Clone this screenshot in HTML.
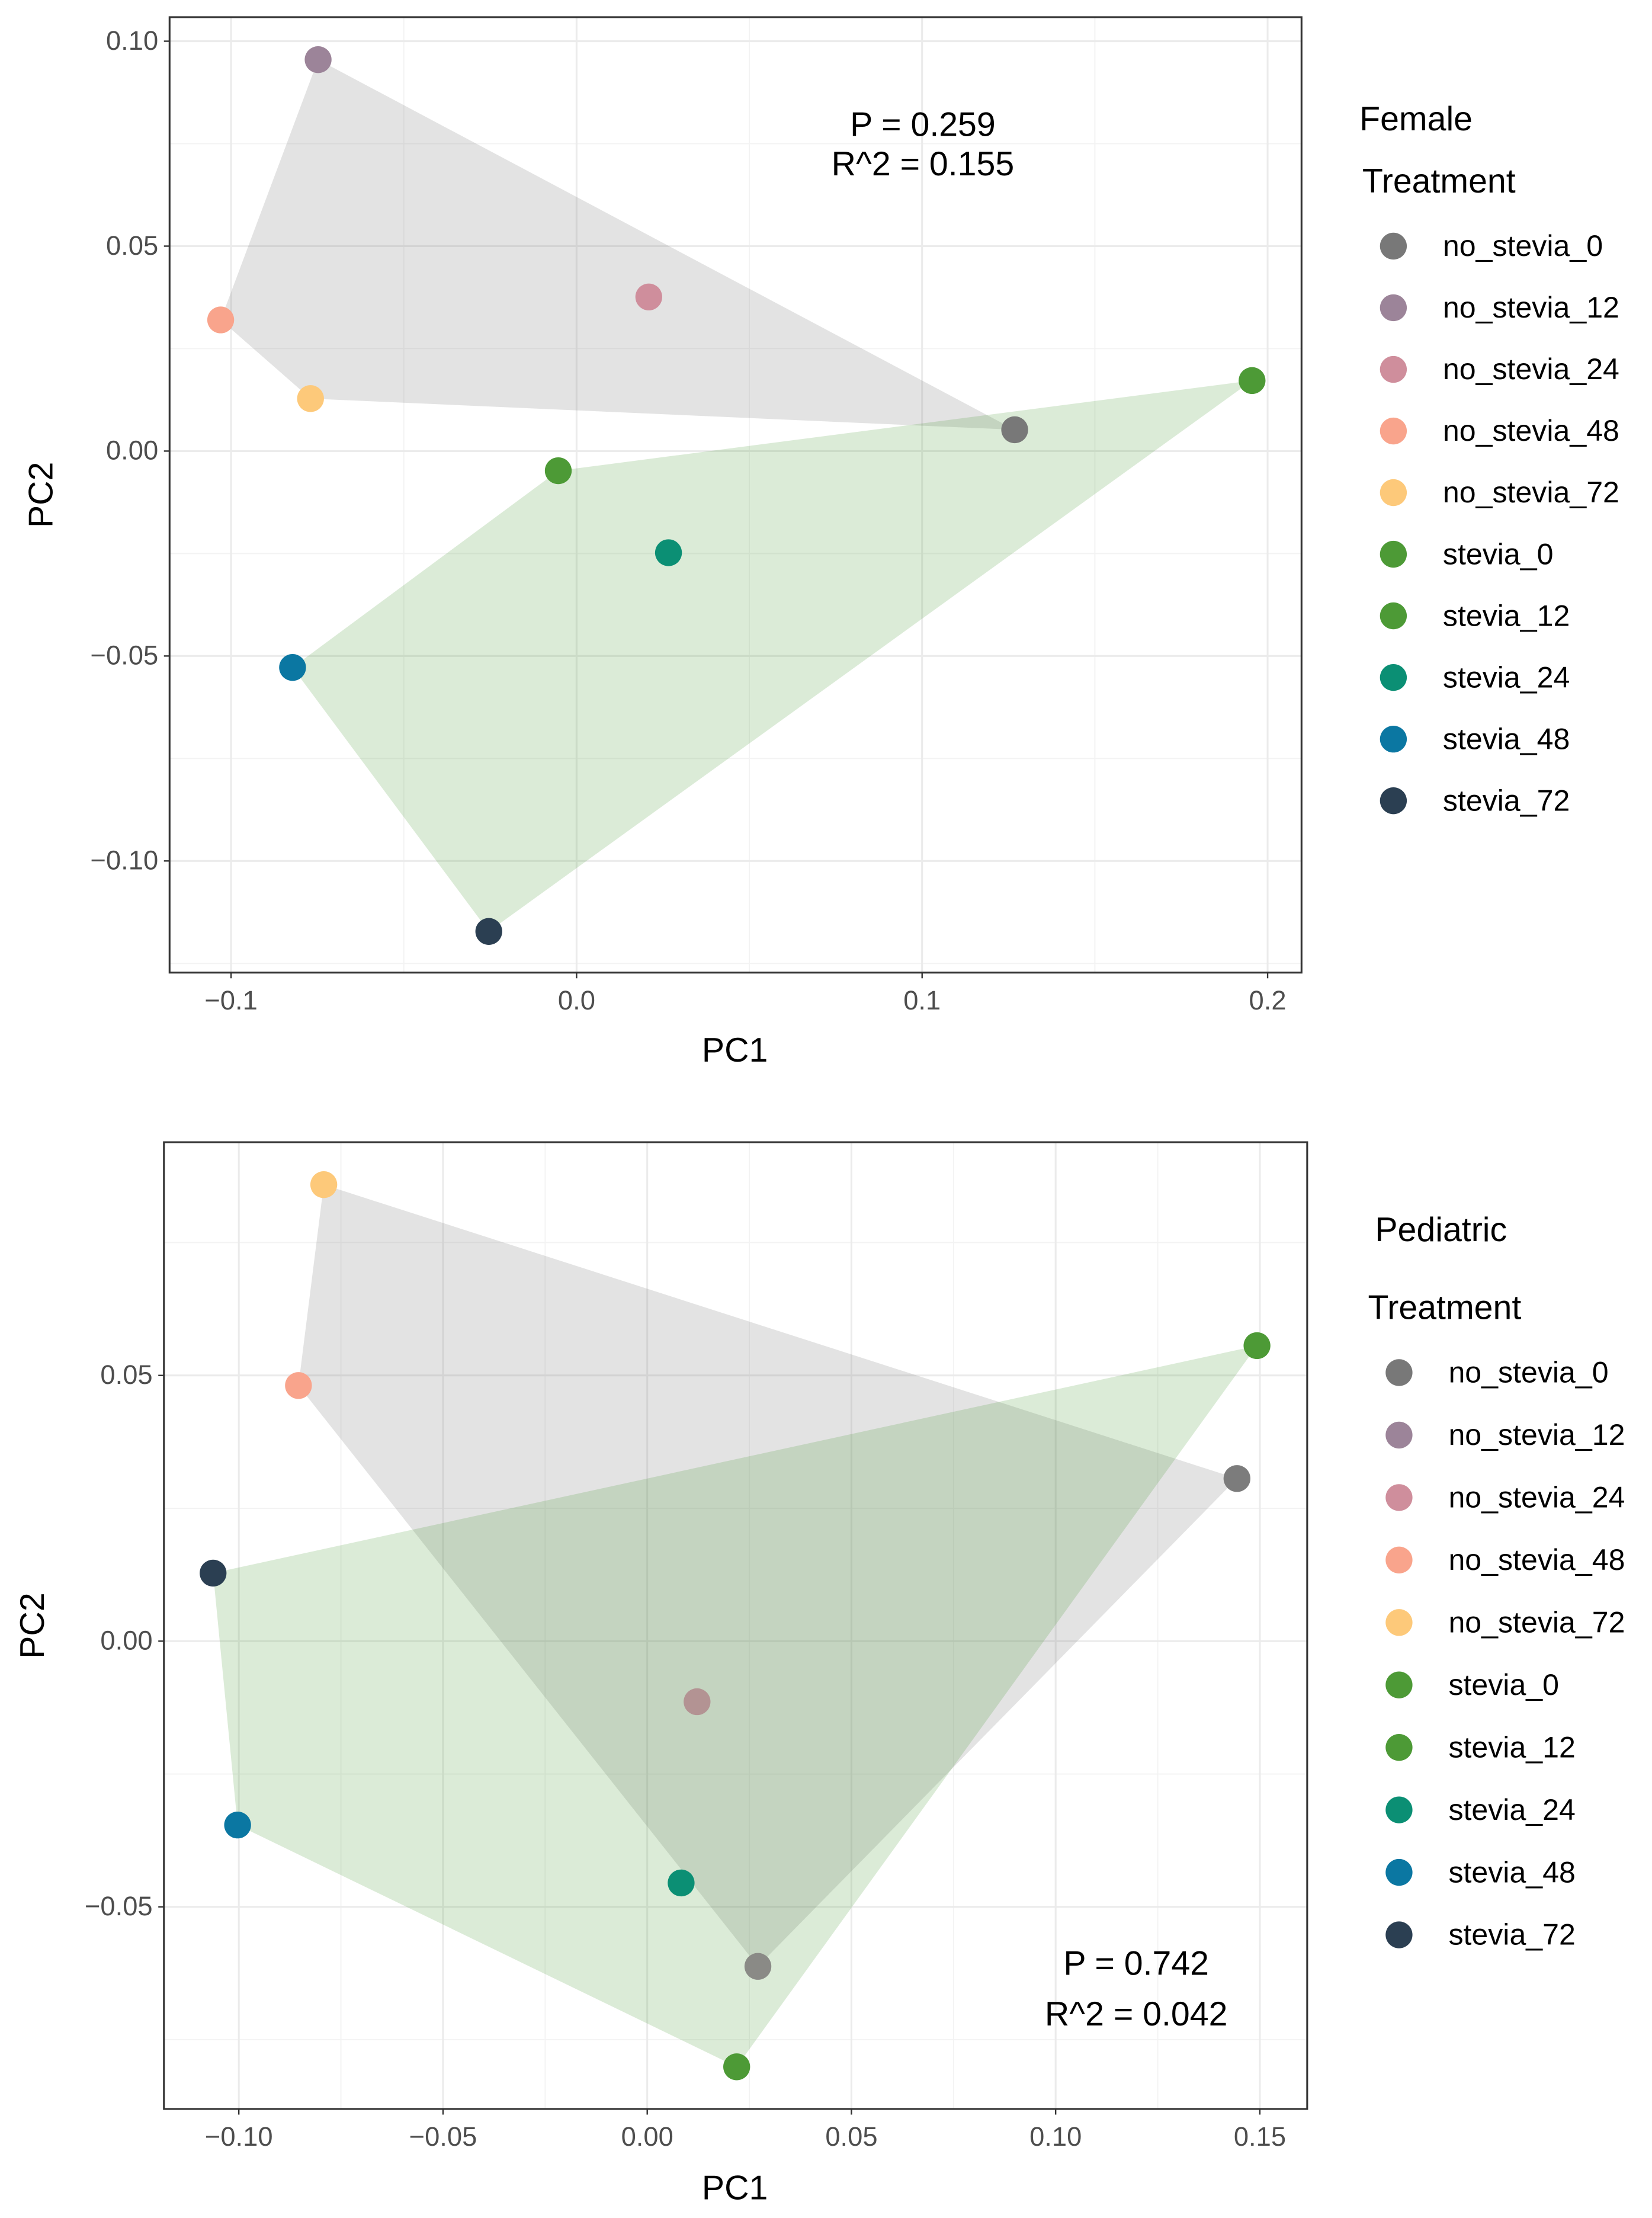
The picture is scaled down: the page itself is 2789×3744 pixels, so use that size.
<!DOCTYPE html>
<html><head><meta charset="utf-8"><style>
html,body{margin:0;padding:0;background:#fff;}
svg{display:block;font-family:"Liberation Sans",sans-serif;}
</style></head><body>
<svg id="root" width="2789" height="3744" viewBox="0 0 1169 1569" xmlns="http://www.w3.org/2000/svg">
<rect width="1169" height="1569" fill="#fff"/>
</svg>
<script>
// ---- legend / colours ----
const groups = ["no_stevia_0","no_stevia_12","no_stevia_24","no_stevia_48","no_stevia_72","stevia_0","stevia_12","stevia_24","stevia_48","stevia_72"];
const colors = ["#787878","#9c8499","#cf8e9c","#f9a48c","#fdc97a","#4d9a36","#4d9a36","#0b8f74","#0b77a2","#2b3f52"];

// ---- Female panel data ----
const femaleX = [0.1268,-0.0748,0.0209,-0.103,-0.077,-0.0053,0.1955,0.0266,-0.0822,-0.0254];
const femaleY = [0.0052,0.0955,0.0376,0.032,0.0128,-0.0048,0.0172,-0.0248,-0.0528,-0.1172];
const femaleXTicks = [-0.1,0.0,0.1,0.2];
const femaleXLabels = ["\u22120.1","0.0","0.1","0.2"];
const femaleYTicks = [0.10,0.05,0.00,-0.05,-0.10];
const femaleYLabels = ["0.10","0.05","0.00","\u22120.05","\u22120.10"];

// ---- Pediatric panel data ----
const pedX = [0.1444,0.0271,0.0122,-0.0854,-0.0792,0.0219,0.1493,0.0083,-0.1003,-0.1063];
const pedY = [0.0306,-0.0612,-0.0114,0.0481,0.0859,-0.0801,0.0556,-0.0455,-0.0346,0.0128];
const pedColors = ["#7c7c7c","#8a8a86","#b39393","#f9a48c","#fdc97a","#4d9a36","#4d9a36","#0b8f74","#0b77a2","#2b3f52"];
const pedXTicks = [-0.10,-0.05,0.00,0.05,0.10,0.15];
const pedXLabels = ["\u22120.10","\u22120.05","0.00","0.05","0.10","0.15"];
const pedYTicks = [0.05,0.00,-0.05];
const pedYLabels = ["0.05","0.00","\u22120.05"];

const NS="http://www.w3.org/2000/svg";
const root=document.getElementById('root');
function mk(tag,attrs,parent){const e=document.createElementNS(NS,tag);for(const k in attrs)e.setAttribute(k,attrs[k]);(parent||root).appendChild(e);return e;}

function hull(pts){
  pts=pts.slice().sort((a,b)=>a[0]-b[0]||a[1]-b[1]);
  const cr=(o,a,b)=>(a[0]-o[0])*(b[1]-o[1])-(a[1]-o[1])*(b[0]-o[0]);
  const lo=[],up=[];
  for(const p of pts){while(lo.length>=2&&cr(lo[lo.length-2],lo[lo.length-1],p)<=0)lo.pop();lo.push(p);}
  for(let i=pts.length-1;i>=0;i--){const p=pts[i];while(up.length>=2&&cr(up[up.length-2],up[up.length-1],p)<=0)up.pop();up.push(p);}
  up.pop();lo.pop();return lo.concat(up);
}

function panel(cfg){
  const g=mk('g',{});
  
  
  const sx=v=>cfg.x0+v*cfg.kx, sy=v=>cfg.y0-v*cfg.ky;
  const F=cfg.frame;
  mk('rect',{x:F[0],y:F[1],width:F[2]-F[0],height:F[3]-F[1],fill:'#fff'},g);
  const xs=cfg.xt, ys=cfg.yt;
  const dx=xs[1]-xs[0], dy=ys[0]-ys[1];
  for(let v=xs[0]-dx/2;v<=xs[xs.length-1]+dx;v+=dx){const X=sx(v);if(X>F[0]&&X<F[2])mk('line',{x1:X,x2:X,y1:F[1],y2:F[3],stroke:'#f3f3f3','stroke-width':0.8},g);}
  for(let v=ys[ys.length-1]-dy*1.5;v<=ys[0]+dy;v+=dy){const Y=sy(v);if(Y>F[1]&&Y<F[3])mk('line',{y1:Y,y2:Y,x1:F[0],x2:F[2],stroke:'#f3f3f3','stroke-width':0.8},g);}
  xs.forEach((v,i)=>{const X=sx(v);
    const l=mk('line',{x1:X,x2:X,y1:F[1],y2:F[3],stroke:'#ebebeb','stroke-width':1.3},g);
    
    
    mk('line',{x1:X,x2:X,y1:F[3],y2:F[3]+4,stroke:'#333','stroke-width':1},g);
    const t=mk('text',{x:X,y:F[3]+26,'text-anchor':'middle','font-size':19,fill:'#4d4d4d'},g);t.textContent=cfg.xl[i];
    
    
  });
  ys.forEach((v,i)=>{const Y=sy(v);
    const l=mk('line',{y1:Y,y2:Y,x1:F[0],x2:F[2],stroke:'#ebebeb','stroke-width':1.3},g);
    
    
    mk('line',{y1:Y,y2:Y,x1:F[0]-4,x2:F[0],stroke:'#333','stroke-width':1},g);
    const t=mk('text',{x:F[0]-8,y:Y+6,'text-anchor':'end','font-size':19,fill:'#4d4d4d'},g);t.textContent=cfg.yl[i];
    
    
  });
  const grayPts=[],greenPts=[];
  cfg.X.forEach((v,i)=>{(i<5?grayPts:greenPts).push([sx(v),sy(cfg.Y[i])]);});
  const h1=mk('polygon',{points:hull(grayPts).map(p=>p.join(',')).join(' '),fill:'#888','fill-opacity':0.23},g);
  
  
  const h2=mk('polygon',{points:hull(greenPts).map(p=>p.join(',')).join(' '),fill:'#4d9a36','fill-opacity':0.2},g);
  
  
  cfg.X.forEach((v,i)=>{
    const c=mk('circle',{cx:sx(v),cy:sy(cfg.Y[i]),r:9.5,fill:cfg.colors[i]},g);
    
    
  });
  mk('rect',{x:F[0],y:F[1],width:F[2]-F[0],height:F[3]-F[1],fill:'none',stroke:'#333','stroke-width':1.3},g);
  cfg.ann.forEach((s,i)=>{const t=mk('text',{x:cfg.annX,y:cfg.annY+i*cfg.annDy,'text-anchor':'middle','font-size':24,fill:'#000'},g);t.textContent=s;
    
    });
  const xt=mk('text',{x:cfg.xTitle[0],y:cfg.xTitle[1],'text-anchor':'middle','font-size':24,fill:'#000'},g);xt.textContent='PC1';
  
  
  const yt=mk('text',{x:0,y:0,'text-anchor':'middle','font-size':24,fill:'#000',transform:`translate(${cfg.yTitle[0]},${cfg.yTitle[1]}) rotate(-90)`},g);yt.textContent='PC2';
  
  
  const lg=mk('g',{},g);
  
  
  cfg.leg.titles.forEach((s,i)=>{const t=mk('text',{x:cfg.leg.tx[i],y:cfg.leg.ty[i],'font-size':24,fill:'#000'},lg);t.textContent=s;
    
    });
  groups.forEach((s,i)=>{const Y=cfg.leg.y0+i*cfg.leg.dy;
    const e=mk('g',{},lg);
    
    
    mk('circle',{cx:cfg.leg.dotX,cy:Y,r:9.5,fill:colors[i]},e);
    const t=mk('text',{x:cfg.leg.textX,y:Y+7,'font-size':21,fill:'#000'},e);t.textContent=s;});
}

panel({name:'female-panel',frame:[120,12,921,688],x0:408,kx:2445,y0:319,ky:2900,
  X:femaleX,Y:femaleY,colors:colors,xt:femaleXTicks,xl:femaleXLabels,yt:femaleYTicks,yl:femaleYLabels,
  ann:["P = 0.259","R^2 = 0.155"],annX:653,annY:96,annDy:28,xTitle:[520,751],yTitle:[37,350],
  leg:{titles:["Female","Treatment"],tx:[962,964],ty:[92,136],y0:174,dy:43.6,dotX:986,textX:1021}});
panel({name:'pediatric-panel',frame:[116,808,925,1492],x0:458,kx:2890,y0:1161,ky:3760,
  X:pedX,Y:pedY,colors:pedColors,xt:pedXTicks,xl:pedXLabels,yt:pedYTicks,yl:pedYLabels,
  ann:["P = 0.742","R^2 = 0.042"],annX:804,annY:1397,annDy:36,xTitle:[520,1556],yTitle:[31,1150],
  leg:{titles:["Pediatric","Treatment"],tx:[973,968],ty:[878,933],y0:971,dy:44.2,dotX:990,textX:1025}});
</script>
</body></html>
